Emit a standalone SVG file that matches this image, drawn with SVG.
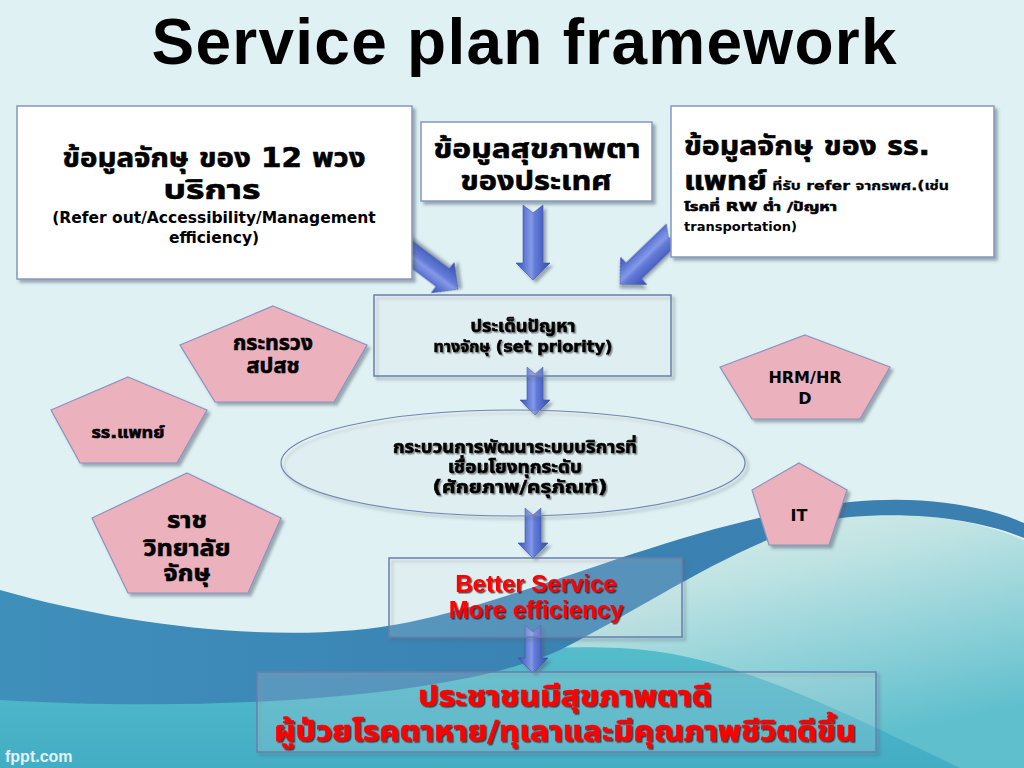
<svg xmlns="http://www.w3.org/2000/svg" width="1024" height="768" viewBox="0 0 1024 768">
<defs>
  <linearGradient id="gRight" x1="0" y1="0" x2="0.6" y2="1">
    <stop offset="0" stop-color="#f1f6ea"/>
    <stop offset="0.45" stop-color="#bfe3e3"/>
    <stop offset="1" stop-color="#5fbfcd"/>
  </linearGradient>
  <linearGradient id="gHump" x1="0" y1="0" x2="0" y2="1">
    <stop offset="0" stop-color="#55bccb"/>
    <stop offset="1" stop-color="#43adc4"/>
  </linearGradient>
  <linearGradient id="gBand" x1="0" y1="0" x2="1" y2="0">
    <stop offset="0" stop-color="#3f8fbb"/>
    <stop offset="0.5" stop-color="#3a83b3"/>
    <stop offset="1" stop-color="#3b7fb0"/>
  </linearGradient>
  <linearGradient id="gArrow" x1="0" y1="0" x2="1" y2="0">
    <stop offset="0" stop-color="#3550bb"/>
    <stop offset="0.45" stop-color="#8499e8"/>
    <stop offset="0.55" stop-color="#647cd8"/>
    <stop offset="1" stop-color="#334cb0"/>
  </linearGradient>
  <filter id="sh" x="-10%" y="-10%" width="125%" height="130%">
    <feDropShadow dx="3" dy="3" stdDeviation="1.5" flood-color="#506070" flood-opacity="0.5"/>
  </filter>
  <filter id="ts" x="-5%" y="-20%" width="115%" height="150%">
    <feDropShadow dx="1.5" dy="1.5" stdDeviation="0.7" flood-color="#404040" flood-opacity="0.55"/>
  </filter>
  <filter id="tsr" x="-5%" y="-20%" width="115%" height="150%">
    <feDropShadow dx="1.5" dy="1.5" stdDeviation="0.7" flood-color="#300000" flood-opacity="0.7"/>
  </filter>
  <style>
    .t { font-family: "DejaVu Sans", "Noto Sans Thai", "Noto Sans", sans-serif; font-weight: bold; fill: #000; }
    .th { stroke: #000; stroke-width: 0.6; }
    .l { font-family: "Liberation Sans", Arial, sans-serif; font-weight: bold; }
    .box { fill: #ffffff; stroke: #8798bd; stroke-width: 1.5; filter: url(#sh); }
    .obox { fill: rgba(255,255,255,0.12); stroke: #6a7fae; stroke-width: 1.5; filter: url(#sh); }
    .pent { fill: #ebb1bd; stroke: #8a93bf; stroke-width: 1.2; filter: url(#sh); }
    .arr { fill: url(#gArrow); stroke: #3a50a8; stroke-width: 0.6; filter: url(#sh); }
    .red { fill: #ff0000; filter: url(#tsr); }
    .thr { stroke: #ff0000; stroke-width: 0.6; }
  </style>
</defs>

<!-- background -->
<rect x="0" y="0" width="1024" height="768" fill="#e0f1f3"/>
<path d="M300,768 L560,650 C650,600 760,525 850,515 C930,510 990,525 1024,540 L1024,768 Z" fill="url(#gRight)"/>
<path d="M0,700 C200,690 450,640 620,648 C720,652 820,700 960,768 L0,768 Z" fill="url(#gHump)"/>
<path d="M0,590 C140,630 300,645 410,622 C540,595 690,520 850,502 C930,494 990,508 1024,523 L1024,538 C985,522 925,511 850,517 C760,526 650,605 560,650 C450,700 200,712 0,700 Z" fill="url(#gBand)"/>

<!-- title -->
<text x="524" y="64" class="l" font-size="64" text-anchor="middle" textLength="745" fill="#000">Service plan framework</text>

<!-- connectors -->
<g id="connectors">
  <path class="arr" transform="translate(398,244) rotate(-53)" d="M-11,0 L0,8 L11,0 L11,56 L19,56 L0,75 L-19,56 L-11,56 Z"/>
  <path class="arr" transform="translate(533,205)" d="M-10,0 L0,8 L10,0 L10,58 L17,58 L0,75 L-17,58 L-10,58 Z"/>
  <path class="arr" transform="translate(674,232) rotate(46)" d="M-11,0 L0,8 L11,0 L11,56 L19,56 L0,75 L-19,56 L-11,56 Z"/>
  <path class="arr" transform="translate(535,367)" d="M-8,0 L0,7 L8,0 L8,33 L15,33 L0,48 L-15,33 L-8,33 Z"/>
  <path class="arr" transform="translate(533,508)" d="M-8,0 L0,7 L8,0 L8,35 L15,35 L0,50 L-15,35 L-8,35 Z"/>
  <path class="arr" transform="translate(533,625)" d="M-8,0 L0,7 L8,0 L8,33 L15,33 L0,48 L-15,33 L-8,33 Z"/>
</g>

<!-- top boxes -->
<g id="box-service12">
  <rect class="box" x="17" y="106" width="395" height="173"/>
  <text class="t th" x="214" y="167" font-size="26" text-anchor="middle" textLength="303" lengthAdjust="spacingAndGlyphs">ข้อมูลจักษุ ของ 12 พวง</text>
  <text class="t th" x="212" y="199" font-size="26" text-anchor="middle" textLength="97" lengthAdjust="spacingAndGlyphs">บริการ</text>
  <text class="t" x="214" y="223" font-size="15.5" text-anchor="middle">(Refer out/Accessibility/Management</text>
  <text class="t" x="214" y="243" font-size="15.5" text-anchor="middle">efficiency)</text>
</g>
<g id="box-national">
  <rect class="box" x="421" y="122" width="231" height="79"/>
  <text class="t th" x="537" y="158" font-size="26" text-anchor="middle" textLength="207" lengthAdjust="spacingAndGlyphs">ข้อมูลสุขภาพตา</text>
  <text class="t th" x="536" y="190" font-size="26" text-anchor="middle" textLength="151" lengthAdjust="spacingAndGlyphs">ของประเทศ</text>
</g>
<g id="box-medschool">
  <rect class="box" x="671" y="106" width="323" height="151"/>
  <text class="t th" x="684" y="155" font-size="26" textLength="246" lengthAdjust="spacingAndGlyphs">ข้อมูลจักษุ ของ รร.</text>
  <text class="t th" x="684" y="190" font-size="26" textLength="265" lengthAdjust="spacingAndGlyphs">แพทย์<tspan font-size="13" stroke-width="0.3"> ที่รับ refer จากรพศ.(เช่น</tspan></text>
  <text class="t th" x="684" y="211" font-size="13" stroke-width="0.3" textLength="153" lengthAdjust="spacingAndGlyphs">โรคที่ RW ต่ำ /ปัญหา</text>
  <text class="t" x="684" y="231" font-size="13">transportation)</text>
</g>

<!-- priority -->
<g id="box-priority">
  <rect class="obox" x="374" y="295" width="297" height="81"/>
  <text class="t th" x="523" y="332" font-size="17" stroke-width="0.4" text-anchor="middle" textLength="105" lengthAdjust="spacingAndGlyphs" filter="url(#ts)">ประเด็นปัญหา</text>
  <text class="t th" x="523" y="352" font-size="16" stroke-width="0.3" text-anchor="middle" textLength="179" lengthAdjust="spacingAndGlyphs" filter="url(#ts)">ทางจักษุ (set priority)</text>
</g>

<!-- process ellipse -->
<g id="process">
  <ellipse cx="513" cy="463" rx="232" ry="53" fill="rgba(255,255,255,0.1)" stroke="#6f86b0" stroke-width="1.2" filter="url(#sh)"/>
  <text class="t th" x="515" y="453" font-size="17" stroke-width="0.4" text-anchor="middle" textLength="244" lengthAdjust="spacingAndGlyphs" filter="url(#ts)">กระบวนการพัฒนาระบบบริการที่</text>
  <text class="t th" x="515" y="473" font-size="17" stroke-width="0.4" text-anchor="middle" textLength="134" lengthAdjust="spacingAndGlyphs" filter="url(#ts)">เชื่อมโยงทุกระดับ</text>
  <text class="t th" x="520" y="493" font-size="17" stroke-width="0.4" text-anchor="middle" textLength="175" lengthAdjust="spacingAndGlyphs" filter="url(#ts)">(ศักยภาพ/ครุภัณฑ์)</text>
</g>

<!-- better service -->
<g id="box-better">
  <rect class="obox" x="389" y="558" width="293" height="79"/>
  <text class="l red" x="536" y="592" font-size="24" text-anchor="middle">Better Service</text>
  <text class="l red" x="536" y="618" font-size="24" text-anchor="middle">More efficiency</text>
</g>

<!-- outcome -->
<g id="box-outcome">
  <rect class="obox" x="257" y="672" width="619" height="80"/>
  <text class="t red thr" x="565" y="706" font-size="28" text-anchor="middle" textLength="294" lengthAdjust="spacingAndGlyphs">ประชาชนมีสุขภาพตาดี</text>
  <text class="t red thr" x="565" y="741" font-size="28" text-anchor="middle" textLength="582" lengthAdjust="spacingAndGlyphs">ผู้ป่วยโรคตาหาย/ทุเลาและมีคุณภาพชีวิตดีขึ้น</text>
</g>

<!-- pentagons -->
<g id="p-ministry">
  <polygon class="pent" points="273,306 367,345 334,402 215,402 180,345"/>
  <text class="t th" x="273" y="350" font-size="21" stroke-width="0.5" text-anchor="middle" textLength="80" lengthAdjust="spacingAndGlyphs">กระทรวง</text>
  <text class="t th" x="273" y="373" font-size="21" stroke-width="0.5" text-anchor="middle" textLength="53" lengthAdjust="spacingAndGlyphs">สปสช</text>
</g>
<g id="p-medschool">
  <polygon class="pent" points="128,377 207,410 177,463 80,463 51,410"/>
  <text class="t th" x="128" y="438" font-size="16" stroke-width="0.4" text-anchor="middle" textLength="73" lengthAdjust="spacingAndGlyphs">รร.แพทย์</text>
</g>
<g id="p-college">
  <polygon class="pent" points="187,473 281,518 248,593 128,593 92,518"/>
  <text class="t th" x="187" y="528" font-size="23" stroke-width="0.5" text-anchor="middle" textLength="40" lengthAdjust="spacingAndGlyphs">ราช</text>
  <text class="t th" x="187" y="556" font-size="23" stroke-width="0.5" text-anchor="middle" textLength="87" lengthAdjust="spacingAndGlyphs">วิทยาลัย</text>
  <text class="t th" x="187" y="581" font-size="23" stroke-width="0.5" text-anchor="middle" textLength="47" lengthAdjust="spacingAndGlyphs">จักษุ</text>
</g>
<g id="p-hrm">
  <polygon class="pent" points="805,335 890,367 860,419 752,419 720,367"/>
  <text class="t" x="805" y="383" font-size="16" text-anchor="middle">HRM/HR</text>
  <text class="t" x="805" y="404" font-size="16" text-anchor="middle">D</text>
</g>
<g id="p-it">
  <polygon class="pent" points="799,463 847,490 829,545 769,545 752,490"/>
  <text class="t" x="799" y="521" font-size="16" text-anchor="middle">IT</text>
</g>

<text class="l" x="5" y="762" font-size="16" fill="#e3f2f6">fppt.com</text>
</svg>
